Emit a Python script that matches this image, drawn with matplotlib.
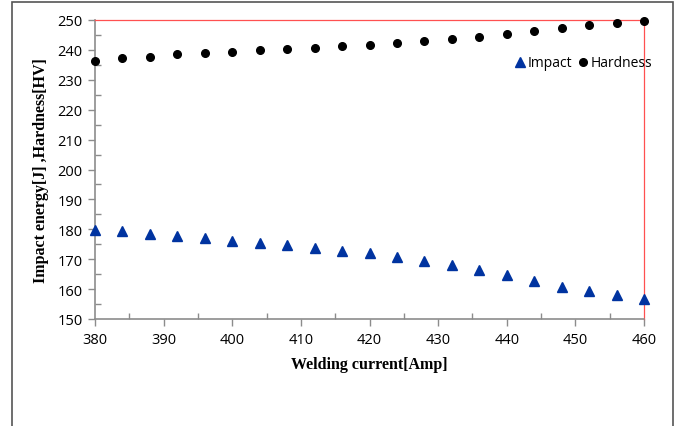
import matplotlib
matplotlib.use("Agg")
import matplotlib.pyplot as plt
from matplotlib.patches import Rectangle
from matplotlib.ticker import MultipleLocator

current = [380, 384, 388, 392, 396, 400, 404, 408, 412, 416, 420,
           424, 428, 432, 436, 440, 444, 448, 452, 456, 460]
impact = [179.9, 179.3, 178.5, 177.8, 177.0, 176.2, 175.5, 174.7, 173.7, 172.8, 172.0,
          170.7, 169.5, 168.0, 166.5, 164.6, 162.7, 160.8, 159.4, 157.9, 156.7]
hardness = [236.4, 237.3, 237.7, 238.5, 239.1, 239.4, 240.0, 240.4, 240.7, 241.2, 241.7,
            242.3, 242.9, 243.5, 244.3, 245.3, 246.3, 247.2, 248.3, 249.1, 249.6]

TICKFONT = "Open Sans"
LABELFONT = "Liberation Serif"
AXGREY = "#8c8c8c"

fig = plt.figure(figsize=(6.8, 4.27), dpi=100)
ax = fig.add_axes([95 / 680, 1 - 320 / 427, (644 - 95) / 680, (320 - 21) / 427])

ax.plot(current, impact, linestyle="none", marker="^", ms=6.5, color="#0033a0",
        label="Impact", clip_on=False, zorder=5)
ax.plot(current, hardness, linestyle="none", marker="o", ms=5.5, color="black",
        label="Hardness", clip_on=False, zorder=5)

ax.set_xlim(380, 460)
ax.set_ylim(150, 250)
ax.xaxis.set_major_locator(MultipleLocator(10))
ax.xaxis.set_minor_locator(MultipleLocator(5))
ax.yaxis.set_major_locator(MultipleLocator(10))
ax.yaxis.set_minor_locator(MultipleLocator(5))
ax.tick_params(which="major", direction="out", length=5, width=1, color=AXGREY,
               labelsize=10.5, pad=4)
ax.tick_params(which="minor", direction="in", length=4, width=1, color=AXGREY)
for lab in ax.get_xticklabels() + ax.get_yticklabels():
    lab.set_family(TICKFONT)

for sp in ("left", "bottom"):
    ax.spines[sp].set_color(AXGREY)
    ax.spines[sp].set_linewidth(1.2)
for sp in ("top", "right"):
    ax.spines[sp].set_color("#ff5050")
    ax.spines[sp].set_linewidth(0.9)

ax.set_xlabel("Welding current[Amp]", family=LABELFONT, fontweight="bold", fontsize=11.5, labelpad=7)
ax.set_ylabel("Impact energy[J] ,Hardness[HV]", family=LABELFONT, fontweight="bold", fontsize=11.5,
              labelpad=6)

leg = ax.legend(loc="upper right", bbox_to_anchor=(1.025, 0.9), ncol=2, frameon=False,
                handletextpad=0.05, columnspacing=0.3, handlelength=1.0, borderaxespad=0,
                prop={"family": TICKFONT, "size": 10})

# outer chart border
fig.patches.append(Rectangle((12 / 680, -0.05), (673 - 12) / 680, 1.05 - 3 / 427,
                             transform=fig.transFigure, fill=False, edgecolor="#555555",
                             linewidth=1.2, clip_on=False))

fig.savefig("out.png", dpi=100)
